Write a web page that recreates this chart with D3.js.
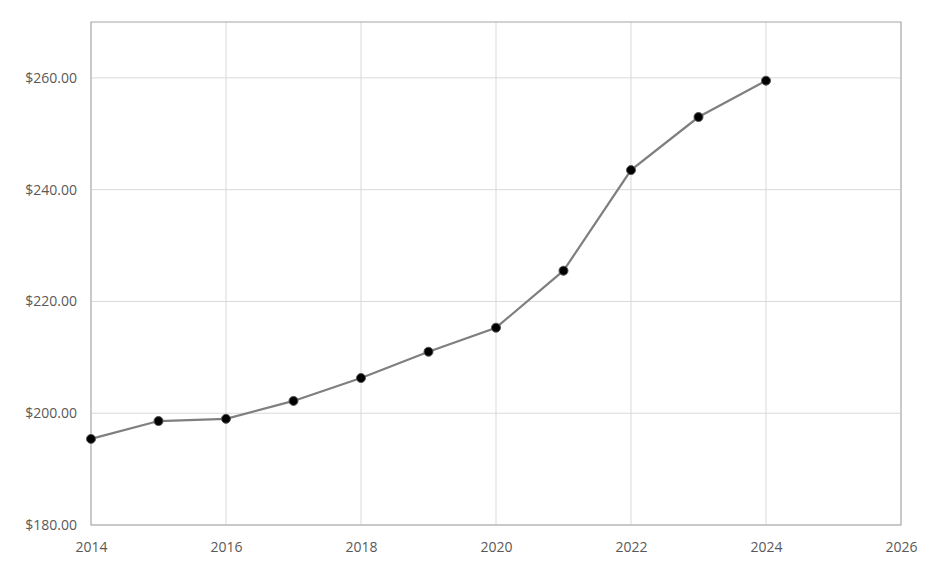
<!DOCTYPE html>
<html><head><meta charset="utf-8">
<script src="https://cdn.jsdelivr.net/npm/d3@7/dist/d3.min.js"></script>
<style>body{margin:0;background:#fff}</style></head>
<body><svg id="c" width="945" height="575"></svg>
<script>
const years=[2014,2015,2016,2017,2018,2019,2020,2021,2022,2023,2024];
const values=[195.4,198.6,199.0,202.2,206.3,211.0,215.3,225.5,243.5,253.0,259.5];
const xTicks=[2014,2016,2018,2020,2022,2024,2026];
const yTicks=[180,200,220,240,260];
const svg=d3.select("#c");
const L=91,R=901,T=22,B=525;
const x=d3.scaleLinear().domain([2014,2026]).range([L,R]);
const y=d3.scaleLinear().domain([180,270]).range([B,T]);
const g=svg.append("g");
g.selectAll(".vg").data(xTicks).join("line").attr("x1",d=>x(d)).attr("x2",d=>x(d)).attr("y1",T).attr("y2",B).attr("stroke","#d9d9d9");
g.selectAll(".hg").data(yTicks).join("line").attr("x1",L).attr("x2",R).attr("y1",d=>y(d)).attr("y2",d=>y(d)).attr("stroke","#d9d9d9");
svg.append("rect").attr("x",L).attr("y",T).attr("width",R-L).attr("height",B-T).attr("fill","none").attr("stroke","#a6a6a6");
const ya=svg.append("g").attr("transform",`translate(${L},0)`).call(d3.axisLeft(y).tickValues(yTicks).tickSize(0).tickPadding(14).tickFormat(d=>"$"+d3.format(".2f")(d)));
const xa=svg.append("g").attr("transform",`translate(0,${B})`).call(d3.axisBottom(x).tickValues(xTicks).tickSize(0).tickPadding(17).tickFormat(d3.format("d")));
[ya,xa].forEach(a=>{a.select(".domain").remove();a.selectAll("text").attr("font-family","Open Sans, sans-serif").attr("font-size","14px").attr("fill","#595959");});
svg.append("path").datum(years.map((d,i)=>[d,values[i]])).attr("fill","none").attr("stroke","#7f7f7f").attr("stroke-width",2.2)
 .attr("d",d3.line().x(d=>x(d[0])).y(d=>y(d[1])));
svg.selectAll(".pt").data(years).join("circle").attr("cx",d=>x(d)).attr("cy",(d,i)=>y(values[i])).attr("r",4.5).attr("fill","#000").attr("stroke","#555").attr("stroke-width",1);
</script></body></html>
